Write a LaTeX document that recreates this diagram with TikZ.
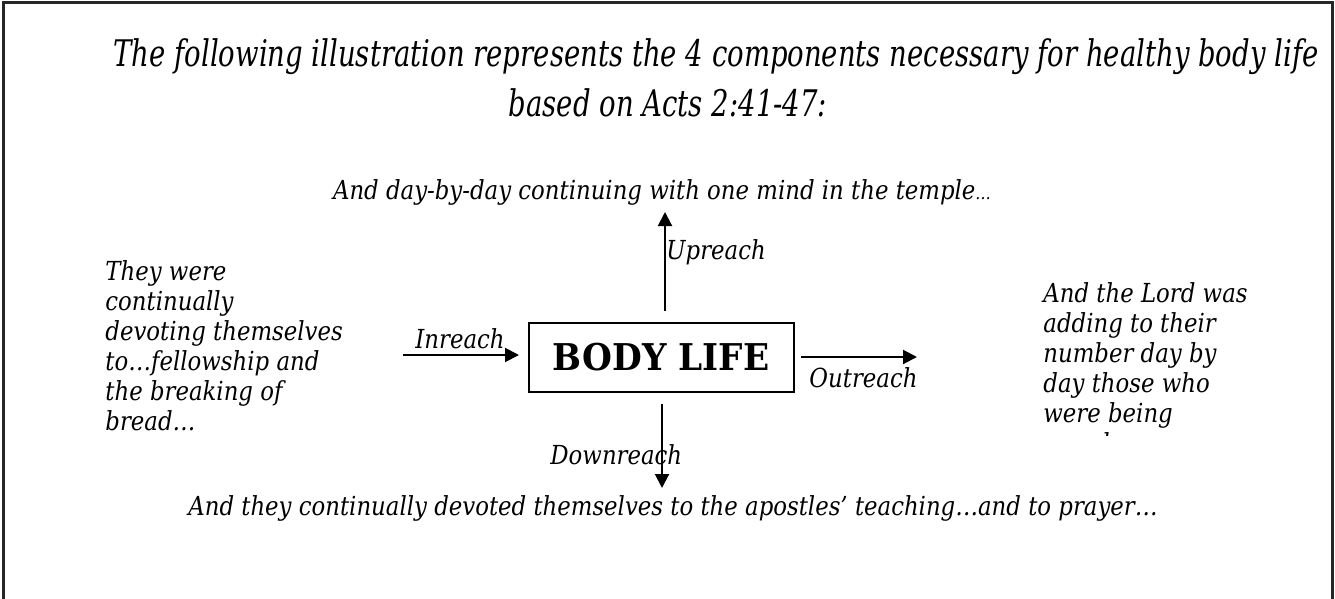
\documentclass[tikz,border=0pt]{standalone}
\usepackage{fontspec}
\setmainfont{DejaVu Serif}
\newfontfamily\titlefont[FakeStretch=0.75,Ligatures=TeX]{DejaVu Serif}
\newfontfamily\bodyfont[FakeStretch=0.87,Ligatures=TeX]{DejaVu Serif}
\newfontfamily\boxfont[FakeStretch=0.93,Ligatures=TeX]{DejaVu Serif}
\usetikzlibrary{arrows.meta}
\begin{document}
\begin{tikzpicture}[x=0.45pt,y=-0.45pt,
  body/.style={font=\bodyfont\itshape\fontsize{11.8}{13.5}\selectfont,inner sep=0pt},
  blocktext/.style={body,align=left,anchor=north west},
  titletext/.style={inner sep=0pt,font=\titlefont\itshape\fontsize{16.5}{20}\selectfont},
  reach/.style={line width=0.9pt,-{Triangle[length=6.3pt,width=6.3pt]}},
  frameline/.style={line width=1.35pt,draw=black!85}]
\useasboundingbox (0,0) rectangle (1335,599);
% frame (open at the bottom)
\coordinate (fbl) at (3,599);
\coordinate (ftl) at (3,3);
\coordinate (ftr) at (1332,3);
\coordinate (fbr) at (1332,599);
\draw[frameline] (fbl) -- (ftl) -- (ftr) -- (fbr);
% title
\node[titletext] (title1) at (716,57) {The following illustration represents the 4 components necessary for healthy body life};
\node[titletext] (title2) at (668,103) {based on Acts 2:41-47:};
% centre box
\node[draw,line width=0.9pt,minimum width=265*0.45pt,minimum height=69*0.45pt,inner sep=0pt,
  font=\boxfont\bfseries\fontsize{16.6}{19}\selectfont] (box) at (661,357) {BODY LIFE};
% quotes
\node[body] (upq) at (662,192) {And day-by-day continuing with one mind in the temple{\fontsize{8}{9}\selectfont\dots}};
\node[body] (downq) at (673,508) {And they continually devoted themselves to the apostles’ teaching\dots and to prayer\dots};
\node[blocktext] (leftq) at (105,260) {They were\\continually\\devoting themselves\\to\dots fellowship and\\the breaking of\\bread\dots};
\begin{scope}
\clip (1000,260) rectangle (1300,435);
\node[blocktext] (rightq) at (1043,282) {And the Lord was\\adding to their\\number day by\\day those who\\were being\\saved.};
\end{scope}
% arrows
\coordinate (upS) at (665,311);
\coordinate (upE) at (665,212);
\draw[reach] (upS) -- (upE);
\coordinate (dnS) at (662,404);
\coordinate (dnE) at (662,488);
\draw[reach] (dnS) -- (dnE);
\coordinate (inS) at (403,355);
\coordinate (inE) at (519,355);
\draw[reach] (inS) -- (inE);
\coordinate (outS) at (801,357);
\coordinate (outE) at (917,357);
\draw[reach] (outS) -- (outE);
% labels
\node[body,anchor=west] (uplab) at (666,252) {Upreach};
\node[body,anchor=west] (dnlab) at (550,455) {Downreach};
\node[body,anchor=west] (inlab) at (415,339) {Inreach};
\node[body,anchor=west] (outlab) at (809,378) {Outreach};
\end{tikzpicture}
\end{document}
